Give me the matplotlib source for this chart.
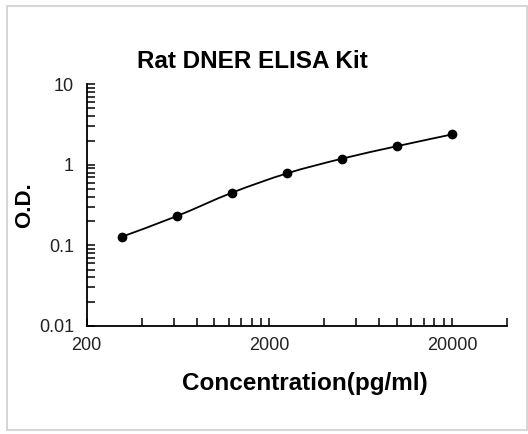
import numpy as np
import matplotlib
import matplotlib.pyplot as plt
from matplotlib.path import Path
from matplotlib.patches import PathPatch, Rectangle
from matplotlib.ticker import FixedLocator, NullFormatter

matplotlib.use('Agg')

# standard curve readings
conc = [312.5, 625, 1250, 2500, 5000, 10000, 20000]
od = [0.128, 0.231, 0.450, 0.782, 1.19, 1.70, 2.38]

x_major = [200, 2000, 20000]
x_minor = [400, 600, 800, 1000, 1200, 1400, 1600, 1800,
           4000, 6000, 8000, 10000, 12000, 14000, 16000, 18000, 40000]
y_major = [0.01, 0.1, 1, 10]
y_labels = ['0.01', '0.1', '1', '10']

plt.rcParams['font.family'] = ['Liberation Sans', 'DejaVu Sans']

fig = plt.figure(figsize=(5.28, 4.34), dpi=100)
ax = fig.add_axes([0.164, 0.249, 0.796, 0.557])

# smoothed line (catmull-rom style bezier in log space, like excel)
lx = np.log10(conc)
ly = np.log10(od)
pts = np.column_stack([lx, ly])
ext = np.vstack([pts[0], pts, pts[-1]])
verts = [tuple(pts[0])]
codes = [Path.MOVETO]
for i in range(len(pts) - 1):
    p0, p1, p2, p3 = ext[i], ext[i + 1], ext[i + 2], ext[i + 3]
    c1 = p1 + (p2 - p0) / 6
    c2 = p2 - (p3 - p1) / 6
    verts += [tuple(c1), tuple(c2), tuple(p2)]
    codes += [Path.CURVE4] * 3
verts = 10 ** np.array(verts)
ax.add_patch(PathPatch(Path(verts, codes), facecolor='none', edgecolor='black', lw=1.3))

ax.plot(conc, od, 'o', color='black', ms=6)

ax.set_xscale('log')
ax.set_yscale('log')
ax.set_xlim(200, 40000)
ax.set_ylim(0.01, 10)

ax.xaxis.set_major_locator(FixedLocator(x_major))
ax.xaxis.set_minor_locator(FixedLocator(x_minor))
ax.set_xticklabels([str(v) for v in x_major])
ax.xaxis.set_minor_formatter(NullFormatter())
ax.set_yticks(y_major)
ax.set_yticklabels(y_labels)
ax.yaxis.set_minor_formatter(NullFormatter())

ax.tick_params(which='both', direction='in', length=5.5, width=1.1, color='black',
               labelsize=13, labelcolor='#222222')
ax.tick_params(axis='x', which='both', pad=8)
ax.tick_params(axis='y', which='both', pad=9)

for s in ['top', 'right']:
    ax.spines[s].set_visible(False)
for s in ['left', 'bottom']:
    ax.spines[s].set_linewidth(1.3)

ax.set_title('Rat DNER ELISA Kit', fontsize=17.5, fontweight='bold', pad=12, x=0.395)
ax.set_xlabel('Concentration(pg/ml)', fontsize=17.5, fontweight='bold')
ax.xaxis.set_label_coords(0.52, -0.19)
ax.set_ylabel('O.D.', fontsize=16, fontweight='bold')
ax.yaxis.set_label_coords(-0.123, 0.5)

fig.patches.append(Rectangle((7 / 528, 1 - 430 / 434), 520 / 528, 424 / 434,
                             transform=fig.transFigure, fill=False,
                             edgecolor='#d0d0d0', lw=1.2))

fig.savefig('out.png', dpi=100)
